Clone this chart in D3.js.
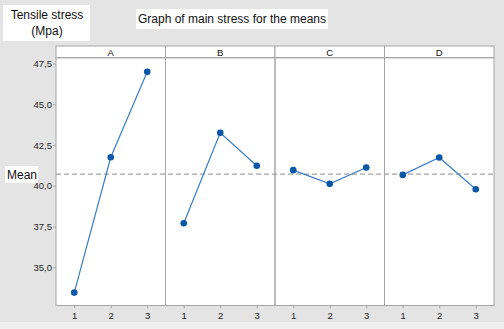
<!DOCTYPE html>
<html><head><meta charset="utf-8">
<script src="https://cdn.jsdelivr.net/npm/d3@7"></script>
<style>
html,body{margin:0;padding:0;background:#e4e4e4;}
svg{display:block;font-family:"Liberation Sans",Arial,sans-serif;}
</style></head><body>
<svg id="chart" width="504" height="329"></svg>
<script>
const factors = ["A","B","C","D"];
const levels = [1,2,3];
const meansA = [33.45, 41.75, 47.0];
const meansB = [37.7, 43.25, 41.23];
const meansC = [40.96, 40.12, 41.12];
const meansD = [40.67, 41.74, 39.79];
const yTicks = [35.0, 37.5, 40.0, 42.5, 45.0, 47.5];
const grandMean = 40.72;
const titleText = "Graph of main stress for the means";
const yTitleLines = ["Tensile stress","(Mpa)"];
const yLabel = "Mean";

const seriesValues = [meansA, meansB, meansC, meansD];

const svg = d3.select("#chart");
svg.append("rect").attr("x",0).attr("y",322).attr("width",504).attr("height",7).attr("fill","#f0f0f0");

const pLeft = 56, pRight = 494, pTop = 46, stripH = 11.5, pBottom = 305.5;
const plotTop = pTop + stripH;

const fx = d3.scaleBand().domain(factors).range([pLeft, pRight]).padding(0);
const y = d3.scaleLinear().domain([32.66, 47.87]).range([pBottom, plotTop]);
const border = "#a6a6a6";

svg.append("rect").attr("x",pLeft).attr("y",pTop).attr("width",pRight-pLeft).attr("height",pBottom-pTop).attr("fill","#fff");

const yAxis = d3.axisLeft(y).tickValues(yTicks).tickSize(3).tickFormat(d => d3.format(".1f")(d).replace(".", ","));
const ga = svg.append("g").attr("transform",`translate(${pLeft},0)`).call(yAxis);
ga.select(".domain").remove();
ga.selectAll(".tick line").attr("stroke",border);
ga.selectAll(".tick text").attr("fill","#1e1e1e").attr("font-size",9.5).attr("x",-4).attr("font-family","Liberation Sans, Arial, sans-serif");

svg.append("line").attr("x1",pLeft).attr("x2",pRight).attr("y1",y(grandMean)).attr("y2",y(grandMean))
  .attr("stroke","#8c8c8c").attr("stroke-width",1).attr("stroke-dasharray","5,3");

const line = d3.line();
factors.forEach((f,i) => {
  const x0 = fx(f), w = fx.bandwidth();
  const x = d3.scaleLinear().domain([0.5,3.5]).range([x0, x0+w]);
  const g = svg.append("g");
  g.append("rect").attr("x",x0).attr("y",pTop).attr("width",w).attr("height",stripH).attr("fill","#fff").attr("stroke",border);
  g.append("line").attr("x1",x0).attr("x2",x0+w).attr("y1",plotTop+1.2).attr("y2",plotTop+1.2).attr("stroke","#d8d8d8");
  g.append("text").attr("x",x0+w/2).attr("y",pTop+9.5).attr("text-anchor","middle").attr("font-size",9.5).attr("fill","#111").text(f);
  g.append("rect").attr("x",x0).attr("y",plotTop).attr("width",w).attr("height",pBottom-plotTop).attr("fill","none").attr("stroke",border);
  const xa = d3.axisBottom(x).tickValues(levels).tickSize(3).tickFormat(d3.format("d"));
  const gx = g.append("g").attr("transform",`translate(0,${pBottom})`).call(xa);
  gx.select(".domain").remove();
  gx.selectAll(".tick line").attr("stroke",border);
  gx.selectAll(".tick text").attr("fill","#1e1e1e").attr("font-size",9.5).attr("y",7).attr("font-family","Liberation Sans, Arial, sans-serif");
  const vals = seriesValues[i];
  const pts = levels.map((l,j) => [x(l), y(vals[j])]);
  g.append("path").attr("d", line(pts)).attr("fill","none").attr("stroke","#3d7cc9").attr("stroke-width",1.2);
  g.selectAll("circle").data(pts).enter().append("circle")
    .attr("cx",d=>d[0]).attr("cy",d=>d[1]).attr("r",3.3).attr("fill","#0a57a8");
});

svg.append("rect").attr("x",136).attr("y",9).attr("width",192).attr("height",20).attr("fill","#fff");
svg.append("text").attr("x",232).attr("y",23).attr("text-anchor","middle").attr("font-size",12).attr("fill","#111").text(titleText);

svg.append("rect").attr("x",3).attr("y",5).attr("width",87).attr("height",36).attr("fill","#fff");
svg.append("text").attr("x",47).attr("y",19).attr("text-anchor","middle").attr("font-size",12).attr("fill","#111").text(yTitleLines[0]);
svg.append("text").attr("x",47).attr("y",35).attr("text-anchor","middle").attr("font-size",12).attr("fill","#111").text(yTitleLines[1]);

svg.append("rect").attr("x",5).attr("y",166).attr("width",33).attr("height",17).attr("fill","#fff");
svg.append("text").attr("x",7).attr("y",179).attr("font-size",12).attr("fill","#111").text(yLabel);
</script>
</body></html>
